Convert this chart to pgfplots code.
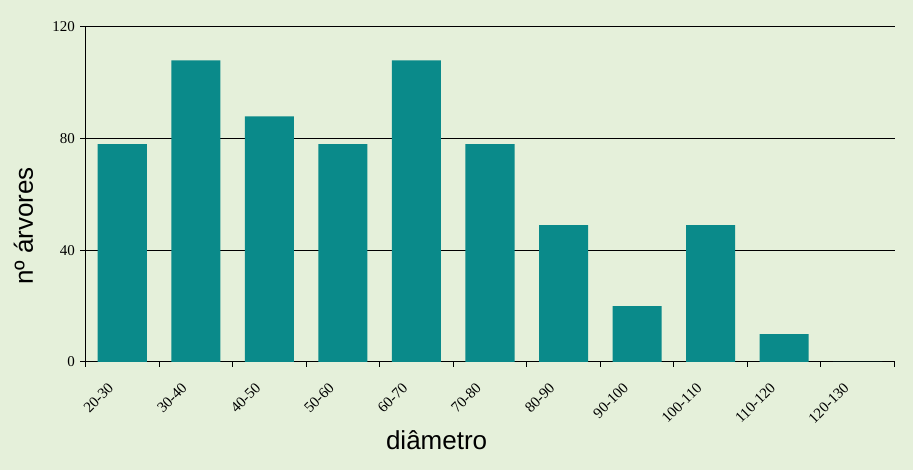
\documentclass[border=0pt]{standalone}
\usepackage{fontspec}
\setmainfont{Liberation Serif}
\newfontfamily\arial{Liberation Sans}
\usepackage{pgfplots}
\pgfplotsset{compat=1.18}
\definecolor{bg}{HTML}{E5F0DA}
\definecolor{barc}{HTML}{0A8A8A}
\begin{document}
\begin{tikzpicture}
\path[use as bounding box, fill=bg] (-85.5pt,-108pt) rectangle (827.5pt,362pt);
\begin{axis}[
  scale only axis, width=809pt, height=335pt,
  at={(0,0)}, anchor=south west,
  xmin=-0.5, xmax=10.5, ymin=0, ymax=120,
  axis x line=bottom, axis y line=left,
  axis line style={-, line width=1pt, black},
  ytick={0,40,80,120},
  ymajorgrids, major grid style={line width=1pt, black},
  xtick={0,...,10},
  xticklabels={20-30,30-40,40-50,50-60,60-70,70-80,80-90,90-100,100-110,110-120,120-130},
  minor xtick={-0.5,0.5,...,10.5},
  every major x tick/.append style={draw=none},
  tick align=outside,
  major tick length=5pt, minor tick length=5pt,
  tick style={line width=1pt, black},
  /pgf/number format/assume math mode=true,
  tick label style={font=\fontsize{15}{18}\selectfont},
  yticklabel style={xshift=-2pt},
  xticklabel style={xshift=-9pt, yshift=-16pt, rotate=45, anchor=east},
  xlabel={\arial\fontsize{26}{30}\selectfont diâmetro},
  ylabel={\arial\fontsize{26}{30}\selectfont nº árvores},
  xlabel style={at={(axis description cs:0.434,-0.2627)}, anchor=base},
  ylabel style={at={(axis description cs:-0.0649,0.406)}, anchor=base, rotate=0},
  clip=false,
]
\addplot[ybar, bar width=0.667, fill=barc, draw=none] coordinates {
 (0,78) (1,108) (2,88) (3,78) (4,108) (5,78) (6,49) (7,20) (8,49) (9,10) (10,0)};
\end{axis}
\end{tikzpicture}
\end{document}
